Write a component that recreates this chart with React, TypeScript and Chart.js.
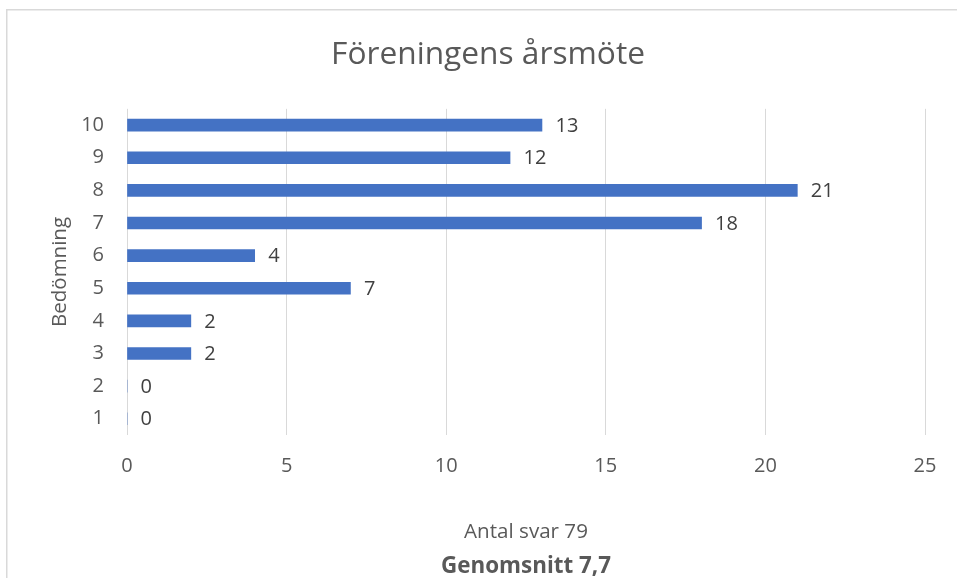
import React, { useEffect, useRef } from "react";
import { Chart, registerables } from "chart.js";

Chart.register(...registerables);

const categories = ["1", "2", "3", "4", "5", "6", "7", "8", "9", "10"];
const counts = [0, 0, 2, 2, 7, 4, 18, 21, 12, 13];
const xTickMax = 25;
const xTickStep = 5;
const chartTitle = "Föreningens årsmöte";
const xAxisTitle = "Antal svar 79";
const footNote = "Genomsnitt 7,7";
const yAxisTitle = "Bedömning";

const FONT = "'Open Sans', sans-serif";
const TEXT = "#595959";
const GRID = "#d9d9d9";
const BAR = "#4472c4";

const frame = {
  id: "frame",
  beforeDraw(chart: any) {
    const ctx = chart.ctx;
    ctx.save();
    ctx.fillStyle = "#ffffff";
    ctx.fillRect(0, 0, chart.width, chart.height);
    ctx.strokeStyle = GRID;
    ctx.lineWidth = 1.5;
    ctx.strokeRect(6.75, 9.75, chart.width + 20, chart.height + 20);
    ctx.restore();
  },
};

const valueLabels = {
  id: "valueLabels",
  afterDatasetsDraw(chart: any) {
    const ctx = chart.ctx;
    const meta = chart.getDatasetMeta(0);
    const data = chart.data.datasets[0].data as number[];
    ctx.save();
    ctx.font = `20px ${FONT}`;
    ctx.fillStyle = "#404040";
    ctx.textAlign = "left";
    ctx.textBaseline = "middle";
    meta.data.forEach((el: any, i: number) => {
      ctx.fillText(String(data[i]), el.x + 13.5, el.y + 1);
    });
    ctx.restore();
  },
};

export default function App() {
  const ref = useRef<HTMLCanvasElement | null>(null);
  useEffect(() => {
    if (!ref.current) return;
    const chart = new Chart(ref.current, {
      type: "bar",
      data: {
        labels: categories,
        datasets: [
          {
            data: counts,
            backgroundColor: BAR,
            borderWidth: 0,
            barThickness: 12,
            yAxisID: "y",
          },
        ],
      },
      plugins: [frame, valueLabels],
      options: {
        indexAxis: "y",
        responsive: false,
        animation: false,
        layout: { padding: { left: 19, right: 0, top: 0, bottom: 0 } },
        plugins: {
          legend: { display: false },
          tooltip: { enabled: false },
          title: {
            display: true,
            text: chartTitle,
            color: TEXT,
            font: { family: FONT, size: 31.7, weight: "normal" },
            padding: { top: 36, bottom: 34.8 },
          },
          subtitle: {
            display: true,
            position: "bottom",
            fullSize: false,
            text: footNote,
            color: TEXT,
            font: { family: FONT, size: 22.4, weight: "bold", lineHeight: 1.0 },
            padding: { top: 0, bottom: 0 },
          },
        },
        scales: {
          x: {
            min: 0,
            max: xTickMax,
            ticks: {
              stepSize: xTickStep,
              color: TEXT,
              font: { family: FONT, size: 20 },
              padding: 19,
            },
            grid: { color: GRID, lineWidth: 1, drawTicks: false },
            border: { display: false },
            title: {
              display: true,
              text: xAxisTitle,
              color: TEXT,
              font: { family: FONT, size: 20.6 },
              padding: { top: 0, bottom: 11.2 },
            },
            afterFit(scale: any) {
              scale.height = 120.5;
            },
          },
          y: {
            reverse: true,
            ticks: {
              color: TEXT,
              font: { family: FONT, size: 20 },
              padding: 23,
            },
            grid: { display: false, drawTicks: false },
            border: { display: false },
            title: {
              display: true,
              text: yAxisTitle,
              color: TEXT,
              font: { family: FONT, size: 20.5 },
              padding: { top: 28.7, bottom: 0 },
            },
            afterFit(scale: any) {
              scale.width = 108;
            },
          },
          yRight: {
            type: "category",
            position: "right",
            display: true,
            ticks: { display: false },
            grid: { display: false, drawTicks: false },
            border: { display: false },
            afterFit(scale: any) {
              scale.width = 32;
            },
          },
        },
      },
    } as any);
    return () => chart.destroy();
  }, []);
  return (
    <div style={{ position: "absolute", left: 0, top: 0, width: 957, height: 578 }}>
      <canvas ref={ref} width={957} height={578} style={{ width: 957, height: 578 }} />
    </div>
  );
}
